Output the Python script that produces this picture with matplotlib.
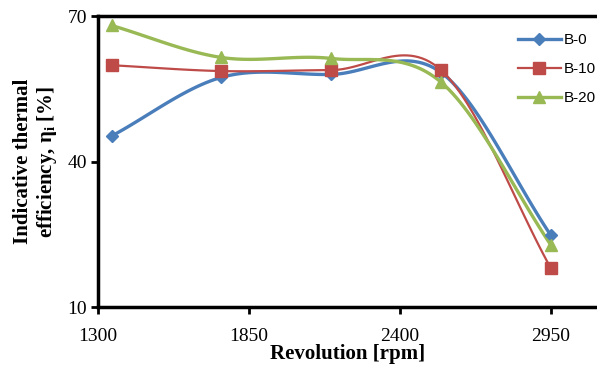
import matplotlib
matplotlib.use('Agg')
import matplotlib.pyplot as plt
import numpy as np

rpm = [1350, 1750, 2150, 2550, 2950]
b0 = [45.3, 57.4, 58.0, 58.4, 24.8]
b10 = [59.9, 58.7, 58.9, 58.9, 18.0]
b20 = [68.1, 61.5, 61.3, 56.4, 22.8]
labels = ['B-0', 'B-10', 'B-20']
xticks = [1300, 1850, 2400, 2950]
yticks = [10, 40, 70]

def smooth(x, y, n=30):
    # catmull-rom style curve through the points, like excel "smoothed line"
    x = np.asarray(x, float)
    y = np.asarray(y, float)
    px = np.concatenate([[2*x[0]-x[1]], x, [2*x[-1]-x[-2]]])
    py = np.concatenate([[2*y[0]-y[1]], y, [2*y[-1]-y[-2]]])
    xs, ys = [], []
    t = np.linspace(0, 1, n)
    for i in range(1, len(px)-2):
        for p, out in ((px, xs), (py, ys)):
            p0, p1, p2, p3 = p[i-1], p[i], p[i+1], p[i+2]
            out.extend(0.5*((2*p1) + (-p0+p2)*t + (2*p0-5*p1+4*p2-p3)*t**2
                            + (-p0+3*p1-3*p2+p3)*t**3))
    return xs, ys

fig = plt.figure(figsize=(5.97, 3.70), dpi=100)
ax = fig.add_axes([0.164, 0.170, 0.836, 0.786])

styles = [('#4A7EBB', 'D', 6, 2.4), ('#BE4B48', 's', 8, 1.6), ('#98B954', '^', 8, 2.4)]
for vals, lab, (c, m, ms, lw) in zip([b0, b10, b20], labels, styles):
    sx, sy = smooth(rpm, vals)
    ax.plot(sx, sy, color=c, lw=lw, zorder=2)
    ax.plot(rpm, vals, ls='none', marker=m, ms=ms, color=c, zorder=3)
    ax.plot([], [], color=c, lw=lw, marker=m, ms=ms, label=lab)

ax.set_xlim(1300, 3118)
ax.set_ylim(10, 70)
ax.set_xticks(xticks)
ax.set_yticks(yticks)
ax.set_xticklabels([str(v) for v in xticks], family='Liberation Serif', fontsize=14)
ax.set_yticklabels([str(v) for v in yticks], family='Liberation Serif', fontsize=14)
ax.tick_params(direction='out', length=5, width=2)
ax.tick_params(axis='x', pad=10)
ax.tick_params(axis='y', pad=3)
ax.spines['right'].set_visible(False)
for s in ['left', 'bottom', 'top']:
    ax.spines[s].set_linewidth(2.5)

ax.set_xlabel('Revolution [rpm]', family='Liberation Serif', fontweight='bold', fontsize=15, labelpad=-1)
ax.set_ylabel('Indicative thermal\nefficiency, $\\mathregular{\\eta_i}$ [%]',
              family='Liberation Serif', fontweight='bold', fontsize=15,
              labelpad=6, linespacing=1.1)

leg = ax.legend(loc='upper right', bbox_to_anchor=(1.025, 0.99), frameon=False,
                prop={'family': 'Liberation Sans', 'size': 11}, handlelength=2.8,
                labelspacing=1.0, handletextpad=0.2)

fig.savefig('out.png', dpi=100)
